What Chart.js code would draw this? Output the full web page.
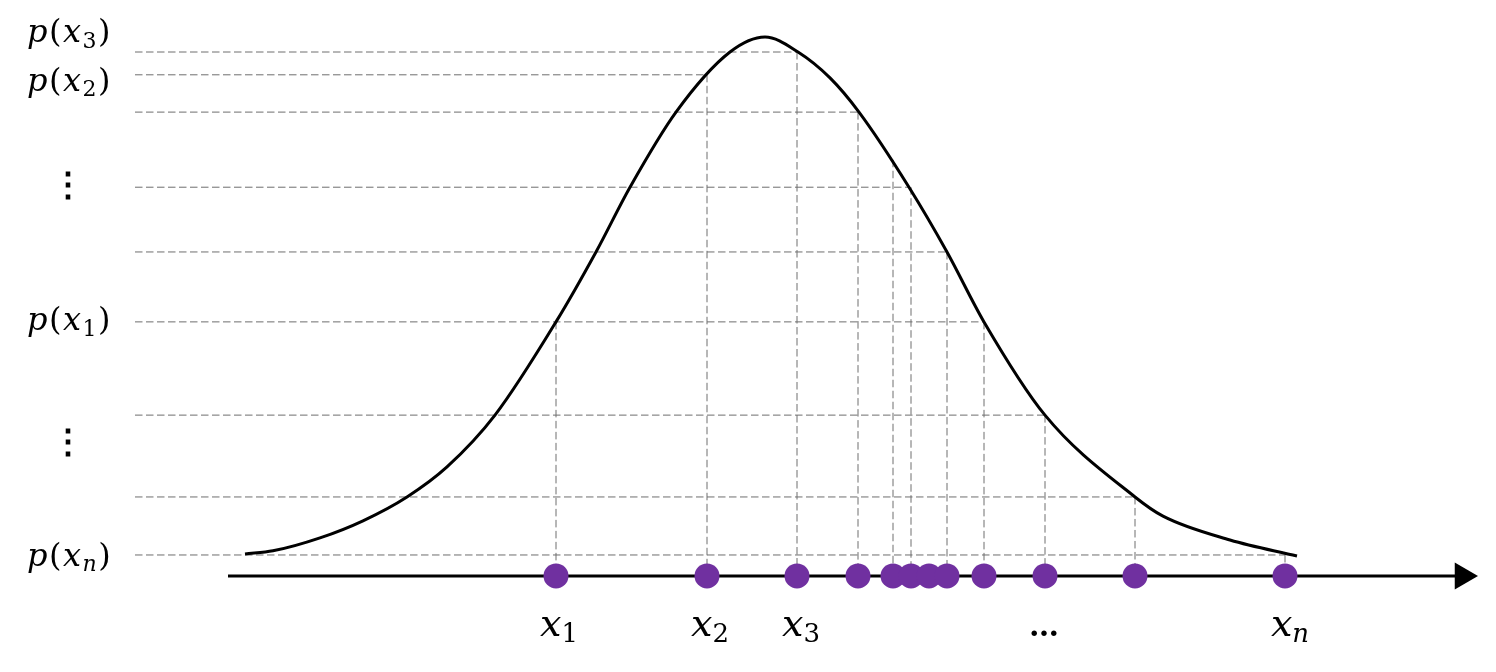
<!DOCTYPE html>
<html>
<head>
<meta charset="utf-8">
<script src="https://cdn.jsdelivr.net/npm/chart.js@4.4.0/dist/chart.umd.min.js"></script>
<style>
  html, body { margin: 0; padding: 0; background: #fff; }
  #wrap { width: 1496px; height: 672px; position: relative; }
</style>
</head>
<body>
<div id="wrap"><canvas id="chart"></canvas></div>
<script>
// x: distance from the peak (1 unit = 100px), y: density in % of the peak
const curveX = [-5.20, -4.92, -4.45, -4.02, -3.58, -3.18, -2.70, -2.09, -1.69, -1.35, -0.89, -0.35, 0.00,
                0.33, 0.65, 0.94, 1.44, 1.82, 2.19, 2.80, 3.70, 3.98, 4.65, 5.32];
const curveY = [0.2, 0.8, 3.3, 6.6, 11.2, 17.0, 27.0, 45.0, 58.5, 71.0, 85.5, 97.1, 100,
                97.1, 92.1, 85.5, 71.0, 58.5, 45.0, 27.0, 11.2, 7.5, 2.9, -0.2];

// samples on the axis, and the height their vertical guide reaches (null = none)
const sampleX = [-2.09, -0.58, 0.32, 0.93, 1.28, 1.46, 1.64, 1.82, 2.19, 2.80, 3.70, 5.20];
const sampleP = [45.0, 92.7, 97.1, 85.5, 76.3, 71.0, null, 58.5, 45.0, 27.0, 11.2, 0];

// horizontal guides: level and where each one stops
const levelP = [97.1, 92.7, 85.5, 71.0, 58.5, 45.0, 27.0, 11.2, 0];
const levelEndX = [0.33, -0.58, 0.93, 1.45, 1.82, 2.19, 2.80, 3.70, 5.20];

const yLabels = ['p(x3)', 'p(x2)', '⋮', 'p(x1)', '⋮', 'p(xn)'];
const yLabelPos = [99.0, 89.6, 71.0, 43.4, 21.4, -2.1];
const xLabels = ['x1', 'x2', 'x3', '…', 'xn'];
const xLabelPos = [-2.06, -0.55, 0.36, 2.79, 5.25];

const guideStartX = -6.30;
const axisP = -4.05;
const axisStartX = -5.37;
const axisEndX = 6.90;
const yLabelLeft = -7.38;
const xLabelBase = -15.6;

const guides = [];
levelP.forEach((p, i) => {
    guides.push({ x: guideStartX, y: p }, { x: levelEndX[i], y: p }, { x: levelEndX[i], y: null });
});
sampleX.forEach((sx, i) => {
    if (sampleP[i] === null) return;
    guides.push({ x: sx, y: sampleP[i] }, { x: sx, y: axisP }, { x: sx, y: null });
});

function toParts(lab, size) {
    const sub = Math.round(size * 0.68);
    const out = [];
    for (let i = 0; i < lab.length; i++) {
        const c = lab[i];
        if (lab[i - 1] === 'x' && c !== ')') {
            out.push({ t: c, font: (/\d/.test(c) ? '' : 'italic ') + sub + 'px "DejaVu Serif"', dy: size * 0.17 });
        } else if (/[a-z]/.test(c)) {
            out.push({ t: c, font: 'italic ' + size + 'px "DejaVu Serif"', dy: 0 });
        } else {
            out.push({ t: c, font: size + 'px "DejaVu Serif"', dy: 0 });
        }
    }
    return out;
}

function drawLabel(ctx, lab, px, py, align, size, gap) {
    const parts = toParts(lab, size);
    let w = 0;
    parts.forEach(p => { ctx.font = p.font; p.w = ctx.measureText(p.t).width; w += p.w; });
    w += gap * (parts.length - 1);
    let cx = align === 'center' ? px - w / 2 : px;
    parts.forEach(p => {
        ctx.font = p.font;
        ctx.fillText(p.t, cx, py + p.dy);
        cx += p.w + gap;
    });
}

const mathLabels = {
    id: 'mathLabels',
    afterDatasetsDraw(chart) {
        const { ctx, scales: { x, y } } = chart;
        ctx.save();
        ctx.fillStyle = '#000';
        ctx.textAlign = 'left';
        yLabels.forEach((lab, i) => {
            const py = y.getPixelForValue(yLabelPos[i]);
            if (lab === '⋮') {
                ctx.font = 'bold 34px "DejaVu Serif"';
                ctx.textAlign = 'center';
                ctx.textBaseline = 'middle';
                ctx.fillText(lab, x.getPixelForValue(yLabelLeft) + 41, py);
                ctx.textAlign = 'left';
            } else {
                ctx.textBaseline = 'alphabetic';
                drawLabel(ctx, lab, x.getPixelForValue(yLabelLeft), py, 'left', 32, 1.5);
            }
        });
        ctx.textBaseline = 'alphabetic';
        xLabels.forEach((lab, i) => {
            const px = x.getPixelForValue(xLabelPos[i]);
            const py = y.getPixelForValue(xLabelBase);
            if (lab === '…') {
                ctx.font = 'bold 30px "DejaVu Serif"';
                ctx.textAlign = 'center';
                ctx.fillText(lab, px, py);
                ctx.textAlign = 'left';
            } else {
                drawLabel(ctx, lab, px, py, 'center', 38, 0);
            }
        });
        ctx.restore();
    }
};

new Chart(document.getElementById('chart'), {
    type: 'scatter',
    data: {
        datasets: [
            {
                data: sampleX.map(v => ({ x: v, y: axisP })),
                pointRadius: 12.5,
                pointBackgroundColor: '#7030A0',
                pointBorderWidth: 0,
                order: 1,
            },
            {
                data: [{ x: axisEndX + 0.075, y: axisP }],
                pointStyle: 'triangle',
                rotation: 90,
                pointRadius: 15.5,
                pointBackgroundColor: '#000',
                pointBorderWidth: 0,
                order: 2,
            },
            {
                data: [{ x: axisStartX, y: axisP }, { x: axisEndX, y: axisP }],
                showLine: true,
                borderColor: '#000',
                borderWidth: 3,
                pointRadius: 0,
                order: 3,
            },
            {
                data: curveX.map((v, i) => ({ x: v, y: curveY[i] })),
                showLine: true,
                borderColor: '#000',
                borderWidth: 3,
                pointRadius: 0,
                cubicInterpolationMode: 'monotone',
                order: 4,
            },
            {
                data: guides,
                showLine: true,
                spanGaps: false,
                borderColor: '#6e6e6e',
                borderWidth: 1,
                borderDash: [7.5, 3.5],
                pointRadius: 0,
                order: 5,
            },
        ],
    },
    options: {
        responsive: true,
        maintainAspectRatio: false,
        animation: false,
        events: [],
        layout: { padding: 0, autoPadding: false },
        plugins: {
            legend: { display: false },
            tooltip: { enabled: false },
        },
        scales: {
            x: { type: 'linear', min: -7.65, max: 7.31, display: false },
            y: { type: 'linear', min: -22.59, max: 107.14, display: false },
        },
    },
    plugins: [mathLabels],
});
</script>
</body>
</html>
